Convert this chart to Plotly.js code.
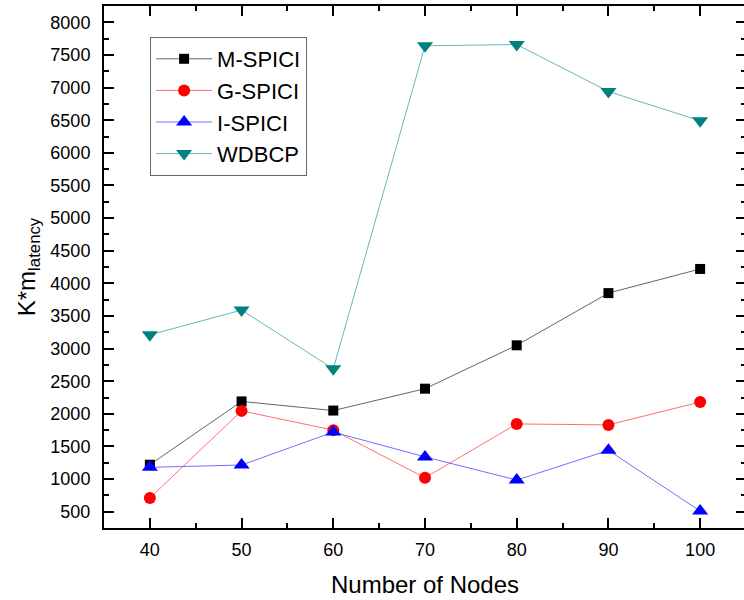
<!DOCTYPE html>
<html>
<head>
<meta charset="utf-8">
<script src="https://cdn.plot.ly/plotly-3.0.1.min.js"></script>
<style>html,body{margin:0;padding:0;background:#fff;overflow:hidden;width:744px;height:600px;}#wrap{width:744px;height:600px;overflow:hidden;}#chart{width:746px;height:600px;}</style>
</head>
<body>
<div id="wrap"><div id="chart"></div></div>
<script>
var nodes = [40, 50, 60, 70, 80, 90, 100];
var mSpici = [1220, 2190, 2050, 2385, 3050, 3850, 4220];
var gSpici = [710, 2045, 1750, 1020, 1845, 1830, 2180];
var iSpici = [1180, 1215, 1720, 1340, 985, 1440, 510];
var wdbcp = [3210, 3590, 2690, 7640, 7660, 6940, 6490];
var seriesNames = ['M-SPICI', 'G-SPICI', 'I-SPICI', 'WDBCP'];

var font = 'Liberation Sans, Arial, sans-serif';

function tr(y, name, sym, size, mcol, lcol) {
  return {
    x: nodes, y: y, name: name, type: 'scatter', mode: 'lines+markers',
    line: {color: lcol, width: 1},
    marker: {symbol: sym, size: size, color: mcol}
  };
}

var data = [
  tr(mSpici, seriesNames[0], 'square', 10, '#000000', '#666666'),
  tr(gSpici, seriesNames[1], 'circle', 12, '#ff0000', '#ff7070'),
  tr(iSpici, seriesNames[2], 'triangle-up', 14, '#0000ff', '#7070ff'),
  tr(wdbcp, seriesNames[3], 'triangle-down', 14, '#008080', '#66b8b8')
];

var layout = {
  width: 746, height: 600,
  margin: {l: 104, r: 0, t: 6, b: 72},
  paper_bgcolor: '#fff', plot_bgcolor: '#fff',
  font: {family: font, color: '#000', size: 18},
  showlegend: true,
  legend: {
    x: 0.0718, y: 0.9406, xanchor: 'left', yanchor: 'top',
    bordercolor: '#666', borderwidth: 1, bgcolor: '#fff',
    font: {family: font, size: 22, color: '#000'},
    itemwidth: 56,
    tracegroupgap: 0
  },
  xaxis: {
    range: [35, 105], tick0: 40, dtick: 10,
    ticks: 'inside', ticklen: 10, tickwidth: 2, tickcolor: '#000',
    showline: true, linecolor: '#000', linewidth: 2, mirror: 'allticks',
    showgrid: false, zeroline: false,
    minor: {dtick: 5, ticks: 'inside', ticklen: 5, tickwidth: 2, tickcolor: '#000', showgrid: false},
    tickfont: {family: font, size: 18, color: '#000'},
    ticklabelstandoff: 4,
    title: {text: 'Number of Nodes', font: {family: font, size: 24, color: '#000'}, standoff: 18}
  },
  yaxis: {
    range: [250, 8250], tick0: 500, dtick: 500,
    ticks: 'inside', ticklen: 10, tickwidth: 2, tickcolor: '#000',
    showline: true, linecolor: '#000', linewidth: 2, mirror: 'allticks',
    showgrid: false, zeroline: false,
    minor: {dtick: 250, ticks: 'inside', ticklen: 5, tickwidth: 2, tickcolor: '#000', showgrid: false},
    tickfont: {family: font, size: 18, color: '#000'},
    ticklabelstandoff: 8,
    title: {text: 'K*m<sub>latency</sub>', font: {family: font, size: 24, color: '#000'}, standoff: 8}
  }
};

Plotly.newPlot('chart', data, layout, {displayModeBar: false, staticPlot: true});
</script>
</body>
</html>
